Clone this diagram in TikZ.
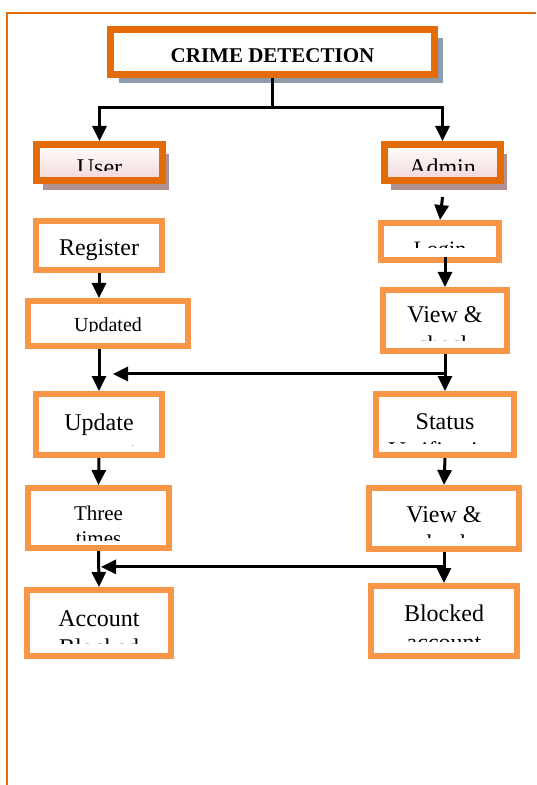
\documentclass[tikz,border=0pt]{standalone}
\usepackage{fontspec}
\setmainfont{Liberation Serif}
\usepackage{tikz}
\usetikzlibrary{positioning,arrows.meta,shadows,calc}
\definecolor{framecol}{RGB}{227,108,9}
\definecolor{darkcol} {RGB}{227,108,9}
\definecolor{lightcol}{RGB}{247,150,70}
\definecolor{pinkcol} {RGB}{242,214,214}
\definecolor{grayshd} {RGB}{141,155,170}
\definecolor{pinkshd} {RGB}{176,146,146}
% text of a box (baseline of its last line), cut off below a given height
\newcommand{\boxtext}[5]{%
  \begin{scope}
    \clip (#1.north west) rectangle (#1.east |- 0,#3);
    \node[lbl,font=#4,anchor=base] (#1-t) at (#1.center |- 0,#2) {#5};
  \end{scope}}

\begin{document}
\begin{tikzpicture}[x=0.5pt,y=-0.5pt,
  topbox/.style={rectangle,draw=darkcol,fill=white,line width=3.5pt,
                 drop shadow={shadow xshift=4.25pt,shadow yshift=-4.25pt,
                              fill=grayshd,opacity=1}},
  userbox/.style={rectangle,draw=darkcol,line width=3.5pt,
                  top color=white,bottom color=pinkcol,
                  drop shadow={shadow xshift=3.25pt,shadow yshift=-4.75pt,
                               fill=pinkshd,opacity=1}},
  sbox/.style={rectangle,draw=lightcol,fill=white,line width=3pt},
  lbl/.style={inner sep=0pt,align=center},
  arr/.style={-{Triangle[width=7pt,length=7.5pt]},line width=1.5pt,black}
]
\useasboundingbox (0,0) rectangle (536,785);
% page frame
\draw[framecol,line width=0.8pt] (7,785) -- (7,13) -- (536,13);

% top level
\node[topbox,minimum width=162pt,minimum height=22.5pt] (crime) at (272.5,52) {};
\node[userbox,minimum width=63pt,minimum height=18pt] (user) at (99.5,162.5) {};
\node[userbox,minimum width=58pt,minimum height=18pt] (admin) at (442.5,162.5) {};

% user side
\node[sbox,minimum width=63pt,minimum height=24.5pt]  (reg)    at (99,245.5)  {};
\node[sbox,minimum width=80pt,minimum height=22.5pt]  (upd)    at (108,323.5) {};
\node[sbox,minimum width=63pt,minimum height=30.5pt]  (update) at (99,424.5)  {};
\node[sbox,minimum width=70.5pt,minimum height=30pt]  (three)  at (98.5,518)  {};
\node[sbox,minimum width=72pt,minimum height=33pt]    (acc)    at (99,623)    {};

% admin side
\node[sbox,minimum width=59pt,minimum height=18.5pt]  (login)  at (440,241.5) {};
\node[sbox,minimum width=62pt,minimum height=30.5pt]  (view1)  at (445,320.5) {};
\node[sbox,minimum width=69pt,minimum height=30.5pt]  (status) at (445,424.5) {};
\node[sbox,minimum width=75pt,minimum height=30.5pt]  (view2)  at (444,518.5) {};
\node[sbox,minimum width=73pt,minimum height=35pt]    (blk)    at (444,621)   {};

% texts
\boxtext{crime}{63}{62}{\fontsize{10.5}{12.5}\selectfont\bfseries}{CRIME DETECTION}
\boxtext{user}{176}{171}{\fontsize{12}{14.5}\selectfont}{User}
\boxtext{admin}{176}{171}{\fontsize{12}{14.5}\selectfont}{Admin}
\boxtext{reg}{256}{270}{\fontsize{12}{14.5}\selectfont}{Register}
\boxtext{upd}{332}{332}{\fontsize{10}{12}\selectfont}{Updated}
\boxtext{update}{459}{445}{\fontsize{12}{14.5}\selectfont}{Update\\account}
\boxtext{three}{545}{540}{\fontsize{10.5}{12.5}\selectfont}{Three\\times}
\boxtext{acc}{655}{643}{\fontsize{12}{14.5}\selectfont}{Account\\Blocked}
\boxtext{login}{256.5}{248}{\fontsize{11}{13}\selectfont}{Login}
\boxtext{view1}{352}{341}{\fontsize{12}{14.5}\selectfont}{View \&\\check}
\boxtext{status}{458}{443}{\fontsize{12}{14.5}\selectfont}{Status\\Verification}
\boxtext{view2}{551}{537}{\fontsize{12}{14.5}\selectfont}{View \&\\check}
\boxtext{blk}{650}{641}{\fontsize{12}{14.5}\selectfont}{Blocked\\account}

% connectors
\draw[line width=1.5pt] (crime.south) -- ++(0,30) coordinate (split);
\draw[arr] (split) -| (user.north);
\draw[arr] (split) -| (admin.north);
\draw[arr] ([yshift=-6.5pt]admin.south) -- (login.north);
\draw[arr] (reg.south) -- (reg.south |- upd.north);
\draw[arr] (update.north |- upd.south) -- (update.north);
\draw[arr] (update.south) -- (three.north);
\draw[arr] (three.south) -- (acc.north);
\draw[arr] ([yshift=3pt]view1.north |- login.south) -- (view1.north);
\draw[arr] (view1.south) -- (status.north);
\draw[arr] (status.south) -- (view2.north);
\draw[arr] (view2.south) -- (blk.north);
\coordinate (mid1) at ($(view1.south)!0.54!(status.north)$);
\coordinate (mid2) at ($(view2.south)!0.48!(blk.north)$);
\draw[arr] (mid1) -- ([xshift=7pt]mid1 -| update.north);
\draw[arr] (mid2) -- ([xshift=1pt]mid2 -| acc.north);
\end{tikzpicture}
\end{document}
